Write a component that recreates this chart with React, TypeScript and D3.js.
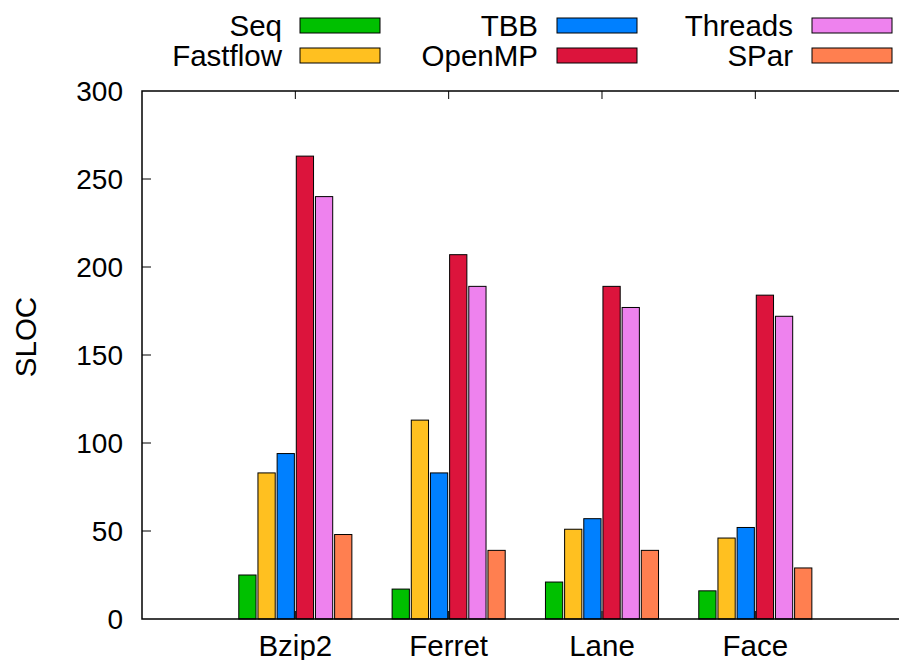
import React from "react";
import * as d3 from "d3";

const categories = ["Bzip2", "Ferret", "Lane", "Face"];
const seriesNames = ["Seq", "Fastflow", "TBB", "OpenMP", "Threads", "SPar"];
const seriesColors = ["#00c000", "#ffc020", "#0080ff", "#dc143c", "#ee82ee", "#ff7f50"];
const seq = [25, 17, 21, 16];
const fastflow = [83, 113, 51, 46];
const tbb = [94, 83, 57, 52];
const openmp = [263, 207, 189, 184];
const threads = [240, 189, 177, 172];
const spar = [48, 39, 39, 29];
const yTicks = [0, 50, 100, 150, 200, 250, 300];

const seriesValues = [seq, fastflow, tbb, openmp, threads, spar];

const W = 899;
const H = 660;
const left = 142;
const top = 91;
const bottom = 619;
const unit = 153.33;
const FONT = "'Liberation Sans', Arial, Helvetica, sans-serif";
const FS = 28;
const FSL = 29.5;

export default function App() {
  const x = d3.scaleLinear().domain([-1, 4]).range([left, left + 5 * unit]);
  const y = d3.scaleLinear().domain([0, 300]).range([bottom, top]);
  const slot = (x(1) - x(0)) / 8;
  const bw = slot * 0.9;
  const right = x(4);

  const legendCols = [
    { textX: 282, sx: 300 },
    { textX: 538, sx: 557 },
    { textX: 793, sx: 812 },
  ];
  const legendRows = [18, 48];

  return (
    <svg
      width={W}
      height={H}
      style={{ position: "absolute", left: 0, top: 0, background: "#fff" }}
      fontFamily={FONT}
    >
      <rect x={0} y={0} width={W} height={H} fill="#fff" />
      {/* bars */}
      {categories.map((c, i) =>
        seriesValues.map((vals, j) => {
          const cx = x(i) + (j - 2.5) * slot;
          return (
            <rect
              key={c + j}
              x={cx - bw / 2}
              y={y(vals[i])}
              width={bw}
              height={y(0) - y(vals[i])}
              fill={seriesColors[j]}
              stroke="#000"
              strokeWidth={1}
            />
          );
        })
      )}
      {/* axes box */}
      <path
        d={`M${right},${top} H${left} V${bottom} H${right}`}
        fill="none"
        stroke="#000"
        strokeWidth={1.5}
      />
      {/* y ticks */}
      {yTicks.map((t) => (
        <g key={t}>
          {t !== 0 && t !== 300 && (
            <line x1={left} x2={left + 9} y1={y(t)} y2={y(t)} stroke="#000" strokeWidth={1} />
          )}
          <text x={123} y={y(t) + 10} textAnchor="end" fontSize={FS} fill="#000">
            {t}
          </text>
        </g>
      ))}
      {/* x ticks */}
      {categories.map((c, i) => (
        <g key={c}>
          <line x1={x(i)} x2={x(i)} y1={top} y2={top + 8} stroke="#000" strokeWidth={1} />
          <line x1={x(i)} x2={x(i)} y1={bottom} y2={bottom - 8} stroke="#000" strokeWidth={1} />
          <text x={x(i)} y={655.5} textAnchor="middle" fontSize={FSL} fill="#000">
            {c}
          </text>
        </g>
      ))}
      {/* y label */}
      <text
        transform={`translate(36,337) rotate(-90)`}
        textAnchor="middle"
        fontSize={FSL}
        fill="#000"
      >
        SLOC
      </text>
      {/* legend */}
      {seriesNames.map((name, j) => {
        const col = legendCols[Math.floor(j / 2)];
        const ry = legendRows[j % 2];
        return (
          <g key={name}>
            <text x={col.textX} y={ry + 17.5} textAnchor="end" fontSize={FSL} fill="#000">
              {name}
            </text>
            <rect
              x={col.sx}
              y={ry}
              width={80}
              height={15}
              fill={seriesColors[j]}
              stroke="#000"
              strokeWidth={1}
            />
          </g>
        );
      })}
    </svg>
  );
}
